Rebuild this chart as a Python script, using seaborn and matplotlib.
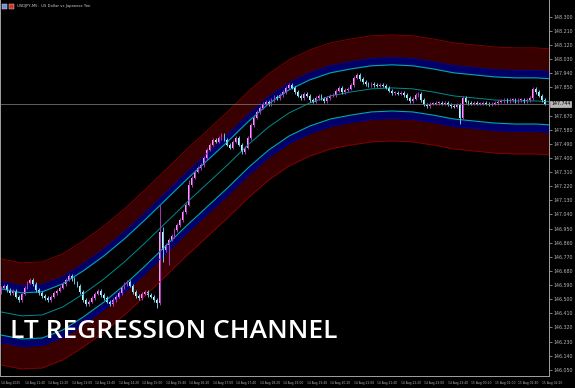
import numpy as np
import pandas as pd
import seaborn as sns
import matplotlib.pyplot as plt
import matplotlib.transforms as mtransforms
from matplotlib.patches import Rectangle

# M5 closes USDJPY, 14 Aug 11:00 -> 15 Aug 02:25
closes = [
    146.572, 146.585, 146.559, 146.540, 146.553, 146.515, 146.495, 146.534, 146.572, 146.604,
    146.623, 146.597, 146.559, 146.540, 146.521, 146.508, 146.495, 146.515, 146.540, 146.553,
    146.572, 146.597, 146.623, 146.648, 146.629, 146.604, 146.585, 146.546, 146.495, 146.470,
    146.483, 146.508, 146.534, 146.553, 146.527, 146.508, 146.483, 146.470, 146.495, 146.515,
    146.540, 146.572, 146.597, 146.610, 146.585, 146.546, 146.521, 146.508, 146.534, 146.546,
    146.527, 146.515, 146.495, 146.476, 146.929, 146.814, 146.846, 146.878, 146.903, 146.941,
    146.973, 147.005, 147.056, 147.101, 147.228, 147.273, 147.311, 147.336, 147.355, 147.400,
    147.451, 147.483, 147.515, 147.502, 147.527, 147.547, 147.515, 147.483, 147.464, 147.502,
    147.527, 147.483, 147.438, 147.464, 147.527, 147.610, 147.655, 147.693, 147.719, 147.744,
    147.757, 147.738, 147.769, 147.789, 147.782, 147.801, 147.820, 147.846, 147.865, 147.846,
    147.820, 147.795, 147.782, 147.808, 147.795, 147.769, 147.757, 147.782, 147.795, 147.776,
    147.763, 147.782, 147.795, 147.801, 147.827, 147.846, 147.820, 147.833, 147.840, 147.865,
    147.910, 147.929, 147.903, 147.884, 147.871, 147.865, 147.871, 147.865, 147.859, 147.865,
    147.859, 147.846, 147.827, 147.814, 147.814, 147.808, 147.814, 147.801, 147.782, 147.763,
    147.776, 147.801, 147.808, 147.769, 147.738, 147.731, 147.744, 147.744, 147.750, 147.750,
    147.744, 147.750, 147.738, 147.731, 147.725, 147.738, 147.655, 147.782, 147.757, 147.750,
    147.744, 147.750, 147.744, 147.744, 147.750, 147.744, 147.738, 147.744, 147.750, 147.757,
    147.763, 147.769, 147.763, 147.769, 147.769, 147.763, 147.769, 147.769, 147.763, 147.769,
    147.782, 147.840, 147.820, 147.795, 147.769, 147.744,
]
first_open = 146.546

# long wicks visible on the chart
long_highs = {54: 147.101, 55: 146.960, 64: 147.260, 121: 147.940, 181: 147.853}
long_lows = {53: 146.445, 54: 146.464, 55: 146.740, 57: 146.720, 156: 147.617}

# regression channel middle line, read every 7 bars
chan_bars = [0, 7, 14, 21, 28, 35, 42, 49, 56, 63, 70, 77, 84, 91,
             98, 105, 112, 119, 126, 133, 140, 147, 154, 161, 168, 175, 182, 187]
chan_mid = [146.419, 146.394, 146.400, 146.451, 146.534, 146.629, 146.738, 146.859,
            146.986, 147.113, 147.234, 147.355, 147.483, 147.597, 147.687, 147.750,
            147.795, 147.820, 147.840, 147.846, 147.840, 147.820, 147.795, 147.782,
            147.769, 147.763, 147.763, 147.757]
inner_w = 0.147   # cyan lines
blue_w = 0.194    # blue band edge
outer_w = 0.338   # red band edge

time_labels = [
    "14 Aug 2025", "14 Aug 11:40", "14 Aug 12:20", "14 Aug 13:00", "14 Aug 13:40",
    "14 Aug 14:20", "14 Aug 15:00", "14 Aug 15:40", "14 Aug 16:20", "14 Aug 17:00",
    "14 Aug 17:40", "14 Aug 18:20", "14 Aug 19:00", "14 Aug 19:40", "14 Aug 20:20",
    "14 Aug 21:00", "14 Aug 21:40", "14 Aug 22:20", "14 Aug 23:00", "14 Aug 23:40",
    "15 Aug 00:20", "15 Aug 01:00", "15 Aug 01:40", "15 Aug 02:20",
]
price_ticks = [
    148.300, 148.210, 148.120, 148.030, 147.940, 147.850, 147.670, 147.580, 147.490,
    147.400, 147.310, 147.220, 147.130, 147.040, 146.950, 146.860, 146.770, 146.680,
    146.590, 146.500, 146.410, 146.320, 146.230, 146.140, 146.050,
]

df = pd.DataFrame({"bar": np.arange(len(closes)), "close": closes})
df["open"] = [first_open] + closes[:-1]
df["high"] = df[["open", "close"]].max(axis=1) + 0.010
df["low"] = df[["open", "close"]].min(axis=1) - 0.010
for k, v in long_highs.items():
    df.loc[k, "high"] = v
for k, v in long_lows.items():
    df.loc[k, "low"] = v
df["bull"] = df["close"] >= df["open"]

chan = pd.DataFrame({"bar": chan_bars, "mid": chan_mid})
xs = chan["bar"].to_numpy(dtype=float)
mid = chan["mid"].to_numpy()

sns.set_theme(style="dark", rc={"axes.facecolor": "black", "figure.facecolor": "black",
                                "axes.grid": False})
plt.rcParams["font.family"] = ["DejaVu Sans"]

fig = plt.figure(figsize=(5.75, 3.88), dpi=100)
ax = fig.add_axes([0.0, 12 / 388, 549 / 575, 376 / 388])

ax.fill_between(xs, mid + blue_w, mid + outer_w, color="#380000", lw=0)
ax.fill_between(xs, mid - outer_w, mid - blue_w, color="#380000", lw=0)
ax.fill_between(xs, mid + inner_w, mid + blue_w, color="#000066", lw=0)
ax.fill_between(xs, mid - blue_w, mid - inner_w, color="#000066", lw=0)
for s in (1, -1):
    ax.plot(xs, mid + s * outer_w, color="#880000", lw=0.6)
    ax.plot(xs, mid + s * blue_w, color="#0000b8", lw=0.5)
    ax.plot(xs, mid + s * inner_w, color="#00a8b0", lw=0.8)
sns.lineplot(data=chan, x="bar", y="mid", ax=ax, color="#008c8c", lw=0.7)

# candles
for bull, body_c, wick_c in ((True, "#f2a0f2", "#b030c0"), (False, "#d0f4ff", "#60c8e0")):
    d = df[df["bull"] == bull]
    ax.vlines(d["bar"], d["low"], d["high"], color=wick_c, lw=0.7)
    bottom = d[["open", "close"]].min(axis=1)
    height = (d["close"] - d["open"]).abs().clip(lower=0.004)
    ax.bar(d["bar"], height, bottom=bottom, width=0.62, color=body_c, lw=0)

last = closes[-1]
ax.axhline(last, color="#6e6e6e", lw=0.6)

ax.set_xlim(-0.34, 186.4)
ax.set_ylim(146.011, 148.406)
ax.set_xlabel("")
ax.set_ylabel("")

ax.yaxis.tick_right()
ax.set_yticks(price_ticks)
ax.set_yticklabels([f"{p:.3f}" for p in price_ticks])
ax.set_xticks(np.arange(0, 8 * len(time_labels), 8))
ax.set_xticklabels(time_labels)
for lab in ax.get_xticklabels():
    lab.set_ha("left")
ax.tick_params(axis="both", colors="#b4b4b4", length=2, width=0.5, pad=1)
ax.tick_params(axis="y", labelsize=3.4)
ax.tick_params(axis="x", labelsize=2.2, pad=1.5)
for sp in ax.spines.values():
    sp.set_color("#a0a0a0")
    sp.set_linewidth(0.7)
ax.spines["top"].set_visible(False)

trans = mtransforms.blended_transform_factory(ax.transAxes, ax.transData)
ax.text(1.004, last, f"{last:.3f}", transform=trans, fontsize=3.4, color="black",
        va="center", ha="left",
        bbox=dict(boxstyle="square,pad=0.15", facecolor="#b8b8b8", edgecolor="#e0e0e0", lw=0.4))

# header: icons + symbol
fig.patches.append(Rectangle((2 / 575, 1 - 9 / 388), 5 / 575, 5 / 388, transform=fig.transFigure,
                             facecolor="#6d8fd8", edgecolor="#e0e0e0", lw=0.3))
fig.patches.append(Rectangle((9 / 575, 1 - 9 / 388), 5 / 575, 5 / 388, transform=fig.transFigure,
                             facecolor="#d83030", edgecolor="#e0e0e0", lw=0.3))
fig.text(17 / 575, 1 - 6.5 / 388, "USDJPY,M5:  US Dollar vs Japanese Yen", color="#d0d0d0",
         fontsize=2.7, va="center", ha="left")

fig.text(10 / 575, 1 - 332 / 388, "LT REGRESSION CHANNEL", color="white", fontsize=19,
         family=["Open Sans", "DejaVu Sans"], fontweight="semibold", va="center", ha="left")

fig.savefig("out.png", dpi=100, facecolor="black")
